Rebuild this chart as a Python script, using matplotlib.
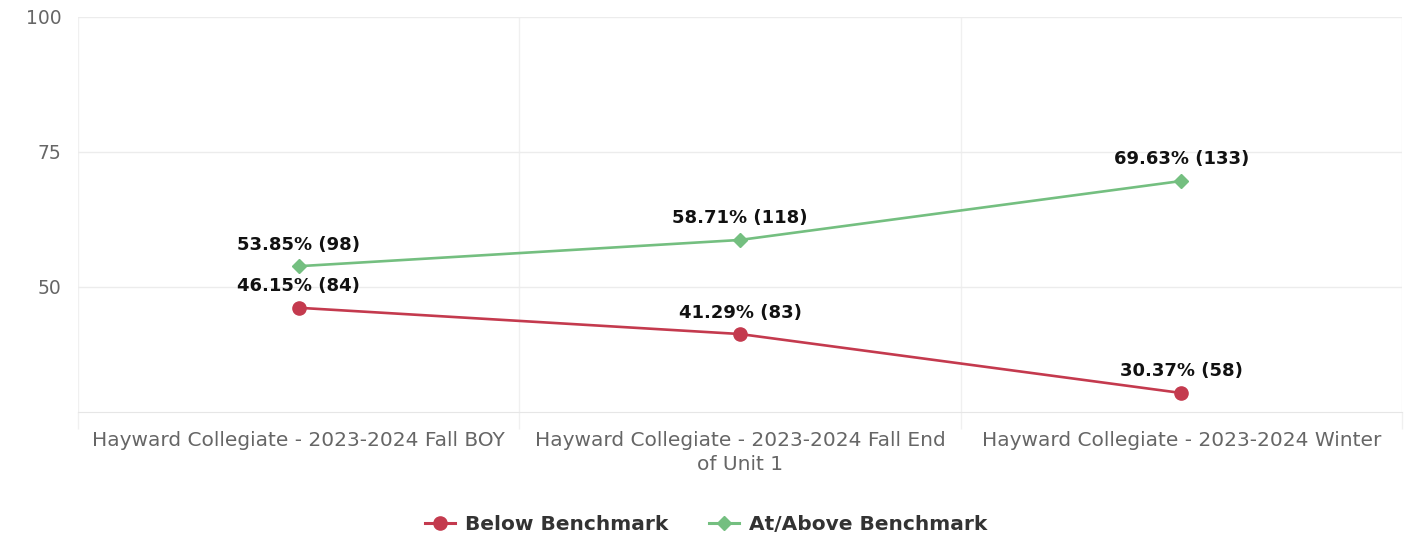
import matplotlib
matplotlib.use("Agg")
import matplotlib.pyplot as plt
from matplotlib.lines import Line2D

categories = [
    "Hayward Collegiate - 2023-2024 Fall BOY",
    "Hayward Collegiate - 2023-2024 Fall End\nof Unit 1",
    "Hayward Collegiate - 2023-2024 Winter",
]
below_pct = [46.15, 41.29, 30.37]
below_n = [84, 83, 58]
above_pct = [53.85, 58.71, 69.63]
above_n = [98, 118, 133]
y_ticks = [50, 75, 100]

RED = "#C43A4E"
GREEN = "#74BF80"
FONT = "DejaVu Sans"

fig = plt.figure(figsize=(14.04, 5.41), dpi=100)
ax = fig.add_axes([78 / 1404, 1 - 412 / 541, (1402 - 78) / 1404, (412 - 17) / 541])

x = list(range(len(categories)))
ax.plot(x, below_pct, color=RED, lw=1.9, marker="o", ms=9.5, zorder=3)
ax.plot(x, above_pct, color=GREEN, lw=1.9, marker="D", ms=7, zorder=3)

for xi, p, n in zip(x, below_pct, below_n):
    ax.annotate(f"{p:.2f}% ({n})", (xi, p), xytext=(0, 9), textcoords="offset points",
                ha="center", va="bottom", fontsize=13, fontweight="bold", color="#111111",
                family=FONT)
for xi, p, n in zip(x, above_pct, above_n):
    ax.annotate(f"{p:.2f}% ({n})", (xi, p), xytext=(0, 9), textcoords="offset points",
                ha="center", va="bottom", fontsize=13, fontweight="bold", color="#111111",
                family=FONT)

ax.set_xlim(-0.5, 2.5)
ax.set_ylim(26.85, 100)

ax.set_yticks(y_ticks)
ax.set_yticklabels([str(t) for t in y_ticks], fontsize=13.5, color="#666666", family=FONT)
ax.yaxis.grid(True, color="#ececec", lw=1)
ax.tick_params(axis="y", length=0, pad=12)

# vertical band separators (category boundaries)
ax.set_xticks([-0.5, 0.5, 1.5, 2.5], minor=True)
ax.xaxis.grid(True, which="minor", color="#f0f0f0", lw=1)
ax.tick_params(axis="x", which="minor", length=12, color="#f0f0f0", width=1)
ax.set_xticks(x)
ax.set_xticklabels(categories, fontsize=14.5, color="#666666", family=FONT, linespacing=1.3)
ax.tick_params(axis="x", which="major", length=0, pad=14)

for s in ["top", "right", "left"]:
    ax.spines[s].set_visible(False)
ax.spines["bottom"].set_color("#e6e6e6")
ax.set_axisbelow(True)

handles = [
    Line2D([0], [0], color=RED, lw=2.2, marker="o", ms=9.5),
    Line2D([0], [0], color=GREEN, lw=2.2, marker="D", ms=7),
]
fig.legend(handles, ["Below Benchmark", "At/Above Benchmark"], loc="center",
           bbox_to_anchor=(706 / 1404, 1 - 525 / 541), ncol=2, frameon=False,
           prop={"family": FONT, "weight": "bold", "size": 14.5}, labelcolor="#333333",
           handlelength=1.5, columnspacing=2.0, handletextpad=0.5)

fig.savefig("out.png", dpi=100)
